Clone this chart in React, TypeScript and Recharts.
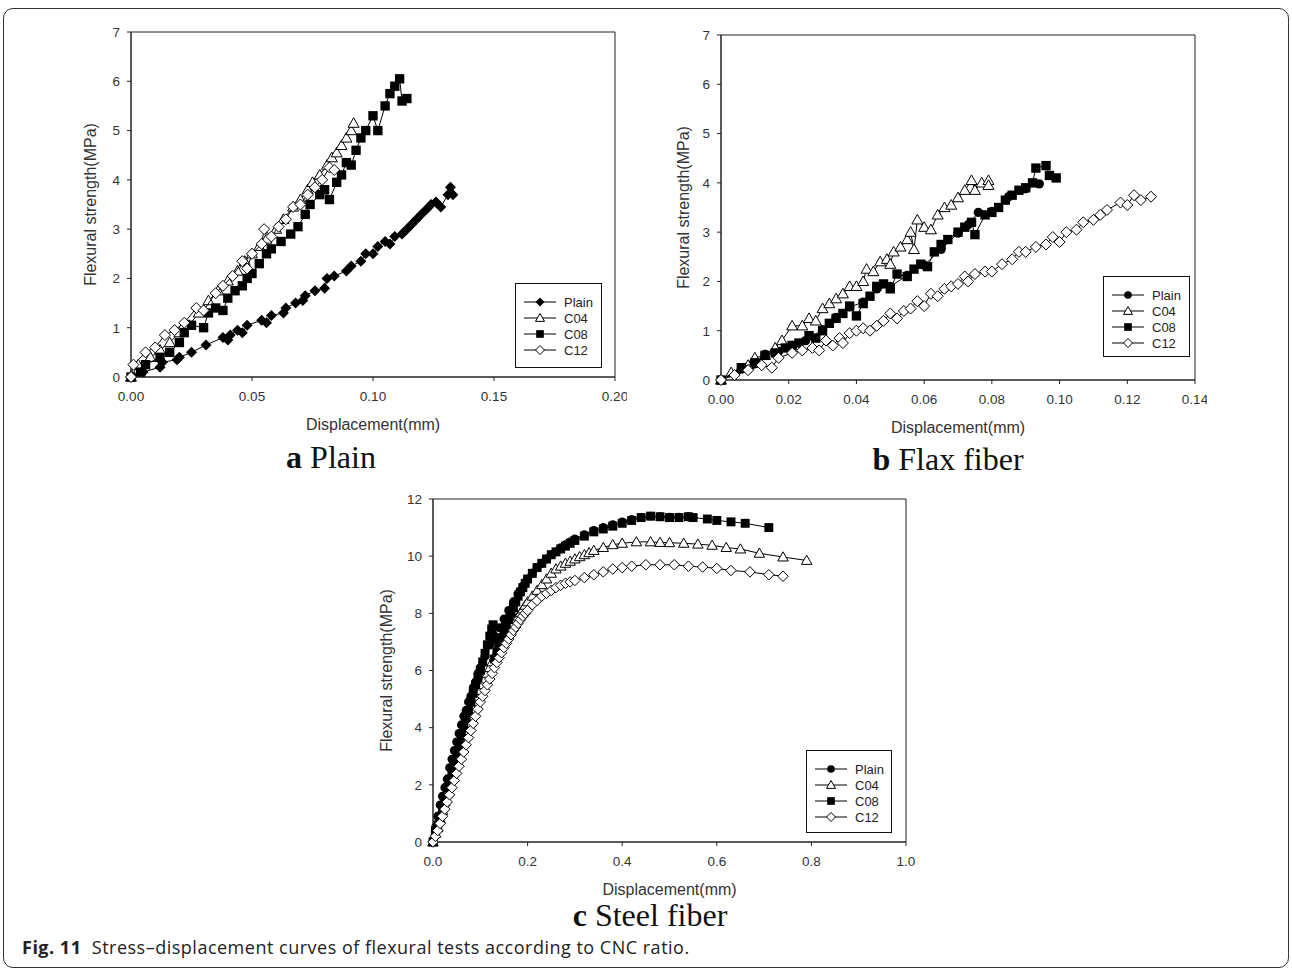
import React from 'react'
import { ScatterChart, Scatter, XAxis, YAxis, ReferenceArea, Legend } from 'recharts'

type Pair = [number, number]
type Kind = 'fdiamond' | 'circle' | 'triangle' | 'square' | 'diamond'

const FONT = '"Liberation Sans", Arial, sans-serif'

const seriesNames = ['Plain', 'C04', 'C08', 'C12']

// a Plain
const aPlain: Pair[] = [
  [0, 0], [0.005, 0.1], [0.012, 0.2], [0.013, 0.3], [0.019, 0.35], [0.02, 0.4], [0.025, 0.5],
  [0.031, 0.65], [0.038, 0.8], [0.04, 0.75], [0.041, 0.85], [0.044, 0.95], [0.046, 0.9],
  [0.048, 1.05], [0.054, 1.15], [0.056, 1.1], [0.058, 1.25], [0.063, 1.3], [0.064, 1.4],
  [0.068, 1.5], [0.071, 1.55], [0.072, 1.65], [0.076, 1.75], [0.08, 1.8], [0.081, 2.0],
  [0.084, 2.05], [0.089, 2.15], [0.091, 2.25], [0.095, 2.35], [0.097, 2.5], [0.1, 2.5],
  [0.102, 2.65], [0.105, 2.75], [0.107, 2.7], [0.109, 2.85], [0.112, 2.9], [0.114, 3.0],
  [0.116, 3.1], [0.118, 3.2], [0.12, 3.3], [0.122, 3.4], [0.124, 3.5], [0.126, 3.55],
  [0.128, 3.45], [0.131, 3.7], [0.132, 3.85], [0.133, 3.7],
]
const aC04: Pair[] = [
  [0, 0], [0.003, 0.25], [0.008, 0.4], [0.012, 0.55], [0.016, 0.7], [0.02, 0.9], [0.024, 1.05],
  [0.028, 1.3], [0.032, 1.55], [0.036, 1.75], [0.04, 1.95], [0.044, 2.15], [0.047, 2.35],
  [0.05, 2.5], [0.053, 2.65], [0.056, 2.8], [0.06, 3.0], [0.063, 3.2], [0.067, 3.45], [0.07, 3.6],
  [0.073, 3.8], [0.075, 3.95], [0.078, 4.1], [0.081, 4.3], [0.083, 4.45], [0.085, 4.55],
  [0.087, 4.7], [0.089, 4.85], [0.091, 5.0], [0.092, 5.15],
]
const aC08: Pair[] = [
  [0, 0], [0.004, 0.1], [0.006, 0.25], [0.012, 0.4], [0.016, 0.5], [0.02, 0.7], [0.022, 0.9],
  [0.025, 1.05], [0.03, 1.0], [0.032, 1.3], [0.035, 1.4], [0.038, 1.35], [0.04, 1.6], [0.043, 1.75],
  [0.046, 1.85], [0.048, 2.0], [0.05, 2.1], [0.053, 2.3], [0.056, 2.5], [0.058, 2.6], [0.062, 2.75],
  [0.066, 2.9], [0.069, 3.05], [0.072, 3.3], [0.074, 3.5], [0.078, 3.7], [0.08, 3.8], [0.082, 3.6],
  [0.085, 3.95], [0.087, 4.1], [0.089, 4.35], [0.091, 4.3], [0.093, 4.6], [0.095, 4.85],
  [0.097, 5.0], [0.1, 5.3], [0.102, 5.0], [0.105, 5.5], [0.107, 5.75], [0.109, 5.9],
  [0.111, 6.05], [0.112, 5.6], [0.114, 5.65],
]
const aC12: Pair[] = [
  [0, 0], [0.001, 0.25], [0.006, 0.5], [0.01, 0.6], [0.014, 0.85], [0.018, 0.95], [0.022, 1.1],
  [0.027, 1.4], [0.03, 1.35], [0.035, 1.7], [0.038, 1.85], [0.042, 2.05], [0.046, 2.35],
  [0.048, 2.2], [0.05, 2.5], [0.054, 2.7], [0.055, 3.0], [0.058, 2.85], [0.061, 3.05],
  [0.064, 3.2], [0.067, 3.45], [0.07, 3.5], [0.073, 3.7], [0.076, 3.85], [0.079, 4.0],
  [0.082, 4.25], [0.084, 4.2],
]

// b Flax fiber
const bPlain: Pair[] = [
  [0, 0], [0.006, 0.22], [0.01, 0.33], [0.013, 0.52], [0.017, 0.58], [0.021, 0.7], [0.025, 0.8],
  [0.03, 1.02], [0.034, 1.27], [0.038, 1.48], [0.042, 1.58], [0.046, 1.85], [0.05, 1.9], [0.055, 2.12],
  [0.06, 2.33], [0.065, 2.65], [0.07, 2.98], [0.073, 3.15], [0.076, 3.4], [0.08, 3.42], [0.085, 3.72],
  [0.09, 3.88], [0.094, 3.98],
]
const bC04: Pair[] = [
  [0, 0], [0.003, 0.15], [0.008, 0.3], [0.01, 0.45], [0.013, 0.5], [0.016, 0.65], [0.018, 0.8],
  [0.021, 1.1], [0.024, 1.1], [0.026, 1.25], [0.028, 1.2], [0.03, 1.45], [0.032, 1.55],
  [0.034, 1.65], [0.036, 1.75], [0.038, 1.9], [0.04, 1.9], [0.042, 2.0], [0.043, 2.25],
  [0.045, 2.2], [0.047, 2.4], [0.049, 2.45], [0.05, 2.35], [0.051, 2.6], [0.053, 2.7],
  [0.055, 2.85], [0.056, 3.0], [0.057, 2.65], [0.058, 3.25], [0.06, 3.1], [0.062, 3.05],
  [0.064, 3.35], [0.066, 3.5], [0.068, 3.55], [0.07, 3.7], [0.072, 3.85], [0.074, 4.05],
  [0.075, 3.85], [0.077, 4.0], [0.079, 4.05], [0.079, 3.95],
]
const bC08: Pair[] = [
  [0, 0], [0.006, 0.25], [0.01, 0.35], [0.013, 0.5], [0.016, 0.55], [0.019, 0.65], [0.021, 0.7],
  [0.023, 0.75], [0.026, 0.9], [0.028, 0.85], [0.03, 1.0], [0.032, 1.15], [0.034, 1.25],
  [0.036, 1.35], [0.038, 1.5], [0.04, 1.3], [0.042, 1.55], [0.044, 1.7], [0.046, 1.9],
  [0.048, 1.95], [0.05, 1.85], [0.052, 2.15], [0.055, 2.1], [0.057, 2.25], [0.059, 2.35],
  [0.061, 2.3], [0.063, 2.6], [0.065, 2.75], [0.067, 2.85], [0.07, 3.0], [0.072, 3.1],
  [0.074, 3.2], [0.075, 2.95], [0.078, 3.35], [0.08, 3.4], [0.082, 3.5], [0.084, 3.65],
  [0.086, 3.75], [0.088, 3.85], [0.09, 3.9], [0.092, 4.0], [0.093, 4.3], [0.096, 4.35],
  [0.097, 4.15], [0.099, 4.1],
]
const bC12: Pair[] = [
  [0, 0], [0.004, 0.1], [0.008, 0.2], [0.012, 0.3], [0.015, 0.25], [0.017, 0.45], [0.021, 0.55],
  [0.024, 0.6], [0.027, 0.65], [0.029, 0.6], [0.031, 0.8], [0.033, 0.7], [0.035, 0.85],
  [0.036, 0.75], [0.038, 0.95], [0.04, 1.0], [0.042, 1.05], [0.044, 1.0], [0.046, 1.1],
  [0.048, 1.2], [0.05, 1.35], [0.052, 1.25], [0.054, 1.4], [0.056, 1.45], [0.058, 1.6],
  [0.06, 1.5], [0.062, 1.75], [0.064, 1.7], [0.066, 1.85], [0.068, 1.9], [0.07, 1.95],
  [0.072, 2.1], [0.073, 2.0], [0.075, 2.15], [0.078, 2.2], [0.08, 2.2], [0.083, 2.35],
  [0.086, 2.45], [0.088, 2.6], [0.09, 2.6], [0.093, 2.7], [0.096, 2.75], [0.098, 2.9],
  [0.1, 2.8], [0.102, 3.0], [0.105, 3.05], [0.107, 3.2], [0.11, 3.25], [0.112, 3.35],
  [0.114, 3.45], [0.118, 3.6], [0.12, 3.55], [0.122, 3.75], [0.124, 3.65], [0.127, 3.72],
]

// c Steel fiber
const cPlain: Pair[] = [
  [0, 0], [0.005, 0.5], [0.01, 0.9], [0.015, 1.3], [0.02, 1.6], [0.025, 1.9], [0.03, 2.2],
  [0.035, 2.6], [0.04, 2.9], [0.045, 3.2], [0.05, 3.5], [0.055, 3.8], [0.06, 4.1], [0.065, 4.4],
  [0.07, 4.6], [0.075, 4.9], [0.08, 5.1], [0.085, 5.4], [0.09, 5.6], [0.095, 5.9], [0.1, 6.1],
  [0.11, 6.5], [0.12, 6.9], [0.13, 7.2], [0.14, 7.5], [0.15, 7.8], [0.16, 8.1], [0.17, 8.4],
  [0.18, 8.7], [0.19, 8.95], [0.2, 9.2], [0.21, 9.4], [0.22, 9.6], [0.23, 9.75], [0.24, 9.9],
  [0.25, 10.05], [0.26, 10.15], [0.27, 10.3], [0.28, 10.4], [0.29, 10.5], [0.3, 10.6],
  [0.32, 10.75], [0.34, 10.9], [0.36, 11.0], [0.38, 11.1], [0.4, 11.2], [0.42, 11.28],
  [0.44, 11.35], [0.46, 11.4], [0.48, 11.38], [0.5, 11.36], [0.52, 11.36], [0.54, 11.38],
]
const cC04: Pair[] = [
  [0, 0], [0.005, 0.3], [0.01, 0.5], [0.015, 0.8], [0.02, 1.1], [0.025, 1.4], [0.03, 1.7],
  [0.035, 2.0], [0.04, 2.3], [0.045, 2.6], [0.05, 2.9], [0.055, 3.15], [0.06, 3.4], [0.065, 3.65],
  [0.07, 3.9], [0.075, 4.15], [0.08, 4.4], [0.085, 4.65], [0.09, 4.9], [0.095, 5.1], [0.1, 5.3],
  [0.105, 5.5], [0.11, 5.7], [0.115, 5.9], [0.12, 6.1], [0.125, 6.3], [0.13, 6.5], [0.135, 6.65],
  [0.14, 6.8], [0.145, 6.95], [0.15, 7.1], [0.155, 7.25], [0.16, 7.4], [0.165, 7.52],
  [0.17, 7.65], [0.175, 7.78], [0.18, 7.9], [0.185, 8.02], [0.19, 8.15], [0.195, 8.28],
  [0.2, 8.4], [0.21, 8.6], [0.22, 8.8], [0.23, 9.0], [0.24, 9.2], [0.25, 9.4], [0.26, 9.55],
  [0.27, 9.65], [0.28, 9.75], [0.29, 9.82], [0.3, 9.9], [0.31, 9.98], [0.32, 10.05],
  [0.33, 10.12], [0.34, 10.2], [0.36, 10.3], [0.38, 10.4], [0.4, 10.45], [0.43, 10.5],
  [0.46, 10.5], [0.48, 10.48], [0.5, 10.47], [0.53, 10.45], [0.56, 10.42], [0.59, 10.38],
  [0.62, 10.3], [0.65, 10.25], [0.69, 10.1], [0.74, 9.97], [0.79, 9.85],
]
const cC08: Pair[] = [
  [0, 0], [0.005, 0.3], [0.01, 0.6], [0.015, 0.9], [0.02, 1.2], [0.025, 1.55], [0.03, 1.9],
  [0.035, 2.2], [0.04, 2.5], [0.045, 2.8], [0.05, 3.1], [0.055, 3.4], [0.06, 3.7], [0.065, 4.0],
  [0.07, 4.3], [0.075, 4.6], [0.08, 4.9], [0.085, 5.2], [0.09, 5.5], [0.095, 5.75], [0.1, 6.0],
  [0.105, 6.3], [0.11, 6.6], [0.115, 6.9], [0.12, 7.2], [0.124, 7.45], [0.127, 7.6],
  [0.129, 7.1], [0.13, 6.4], [0.135, 6.65], [0.14, 6.9], [0.145, 7.15], [0.15, 7.4],
  [0.155, 7.6], [0.16, 7.8], [0.165, 8.0], [0.17, 8.2], [0.175, 8.4], [0.18, 8.6], [0.185, 8.75],
  [0.19, 8.9], [0.195, 9.05], [0.2, 9.2], [0.21, 9.4], [0.22, 9.6], [0.23, 9.75], [0.24, 9.9],
  [0.25, 10.05], [0.26, 10.15], [0.27, 10.25], [0.28, 10.35], [0.29, 10.45], [0.3, 10.55],
  [0.32, 10.7], [0.34, 10.85], [0.36, 10.95], [0.38, 11.05], [0.4, 11.15], [0.42, 11.25],
  [0.44, 11.35], [0.46, 11.4], [0.48, 11.38], [0.5, 11.35], [0.52, 11.35], [0.54, 11.38],
  [0.55, 11.35], [0.58, 11.3], [0.6, 11.25], [0.63, 11.2], [0.66, 11.15], [0.71, 11.0],
]
const cC12: Pair[] = [
  [0, 0], [0.005, 0.2], [0.01, 0.4], [0.015, 0.65], [0.02, 0.9], [0.025, 1.15], [0.03, 1.4],
  [0.035, 1.65], [0.04, 1.9], [0.045, 2.15], [0.05, 2.4], [0.055, 2.65], [0.06, 2.9],
  [0.065, 3.15], [0.07, 3.4], [0.075, 3.65], [0.08, 3.9], [0.085, 4.15], [0.09, 4.4],
  [0.095, 4.65], [0.1, 4.9], [0.105, 5.1], [0.11, 5.3], [0.115, 5.5], [0.12, 5.7], [0.125, 5.9],
  [0.13, 6.1], [0.135, 6.28], [0.14, 6.45], [0.145, 6.62], [0.15, 6.8], [0.155, 6.95],
  [0.16, 7.1], [0.165, 7.25], [0.17, 7.4], [0.175, 7.52], [0.18, 7.65], [0.185, 7.78],
  [0.19, 7.9], [0.195, 8.0], [0.2, 8.1], [0.21, 8.3], [0.22, 8.45], [0.23, 8.6], [0.24, 8.7],
  [0.25, 8.8], [0.26, 8.9], [0.27, 8.98], [0.28, 9.05], [0.29, 9.1], [0.3, 9.15], [0.32, 9.25],
  [0.34, 9.35], [0.36, 9.45], [0.38, 9.55], [0.4, 9.6], [0.42, 9.65], [0.45, 9.7], [0.48, 9.7],
  [0.51, 9.7], [0.54, 9.65], [0.57, 9.62], [0.6, 9.57], [0.63, 9.5], [0.67, 9.45], [0.71, 9.35],
  [0.74, 9.3],
]

const ticksA = [0, 0.05, 0.1, 0.15, 0.2]
const ticksB = [0, 0.02, 0.04, 0.06, 0.08, 0.1, 0.12, 0.14]
const ticksC = [0, 0.2, 0.4, 0.6, 0.8, 1.0]
const ticks7 = [0, 1, 2, 3, 4, 5, 6, 7]
const ticks12 = [0, 2, 4, 6, 8, 10, 12]

const toPts = (d: Pair[]) => d.map(([x, y]) => ({ x, y }))

function Mark({ kind, cx, cy, s }: { kind: Kind; cx: number; cy: number; s: number }) {
  const r = s / 2
  switch (kind) {
    case 'fdiamond':
      return <polygon points={`${cx},${cy - r} ${cx + r},${cy} ${cx},${cy + r} ${cx - r},${cy}`} fill="#000" />
    case 'diamond':
      return <polygon points={`${cx},${cy - r} ${cx + r},${cy} ${cx},${cy + r} ${cx - r},${cy}`} fill="#fff" stroke="#000" strokeWidth={1} />
    case 'circle':
      return <circle cx={cx} cy={cy} r={r * 0.85} fill="#000" />
    case 'triangle':
      return <polygon points={`${cx},${cy - r} ${cx + r},${cy + r * 0.75} ${cx - r},${cy + r * 0.75}`} fill="#fff" stroke="#000" strokeWidth={1} />
    case 'square':
    default:
      return <rect x={cx - r * 0.85} y={cy - r * 0.85} width={r * 1.7} height={r * 1.7} fill="#000" />
  }
}

interface PanelProps {
  plot: { l: number; t: number; r: number; b: number }
  xMax: number
  xTicks: number[]
  xDec: number
  yMax: number
  yTicks: number[]
  yGap: number
  kinds: Kind[]
  data: Pair[][]
  size: number
  legend: { l: number; t: number; w: number; h: number }
}

function LegendBox({ kinds, w, h }: { kinds: Kind[]; w: number; h: number }) {
  return (
    <div style={{ width: w - 2, height: h - 12, border: '1px solid #111', background: '#fff', paddingTop: 10, boxSizing: 'content-box' }}>
      {kinds.map((k, i) => (
        <div key={i} style={{ display: 'flex', alignItems: 'center', height: 16 }}>
          <svg width={46} height={16} style={{ display: 'block' }}>
            <line x1={8} x2={40} y1={8} y2={8} stroke="#000" strokeWidth={1} />
            <Mark kind={k} cx={24} cy={8} s={9} />
          </svg>
          <span style={{ fontFamily: FONT, fontSize: 13, color: '#222', marginLeft: 2 }}>{seriesNames[i]}</span>
        </div>
      ))}
    </div>
  )
}

function Panel(p: PanelProps) {
  const YW = 60
  const XH = 62
  const mt = 10
  const mr = 12
  const left = p.plot.l - YW
  const top = p.plot.t - mt
  const width = p.plot.r - p.plot.l + YW + mr
  const height = p.plot.b - p.plot.t + mt + XH
  const tickStyle = { fill: '#333', fontSize: 13.5, fontFamily: FONT }
  return (
    <div style={{ position: 'absolute', left, top }}>
      <ScatterChart width={width} height={height} margin={{ top: mt, right: mr, bottom: 0, left: 0 }}>
        <XAxis
          type="number"
          dataKey="x"
          domain={[0, p.xMax]}
          ticks={p.xTicks}
          interval={0}
          tickFormatter={(v: number) => v.toFixed(p.xDec)}
          height={XH}
          tick={tickStyle}
          tickSize={4}
          tickMargin={10}
          stroke="#222"
          label={{ value: 'Displacement(mm)', position: 'insideBottom', offset: 9, fill: '#333', fontSize: 16, fontFamily: FONT }}
        />
        <YAxis
          type="number"
          dataKey="y"
          domain={[0, p.yMax]}
          ticks={p.yTicks}
          interval={0}
          width={YW}
          tick={tickStyle}
          tickSize={4}
          tickMargin={7}
          stroke="#222"
          label={{ value: 'Flexural strength(MPa)', angle: -90, position: 'insideLeft', offset: YW - p.yGap, fill: '#333', fontSize: 16, fontFamily: FONT, style: { textAnchor: 'middle' } }}
        />
        <ReferenceArea x1={0} x2={p.xMax} y1={0} y2={p.yMax} fill="none" stroke="#222" strokeWidth={1} ifOverflow="visible" />
        {p.data.map((d, i) => (
          <Scatter
            key={seriesNames[i]}
            name={seriesNames[i]}
            data={toPts(d)}
            line={{ stroke: '#000', strokeWidth: 1 }}
            lineType="joint"
            isAnimationActive={false}
            shape={(sp: any) => <Mark kind={p.kinds[i]} cx={sp.cx} cy={sp.cy} s={p.size} />}
          />
        ))}
        <Legend
          layout="vertical"
          align="center"
          verticalAlign="middle"
          wrapperStyle={{ left: p.legend.l - left, top: p.legend.t - top, width: p.legend.w, height: p.legend.h }}
          content={() => <LegendBox kinds={p.kinds} w={p.legend.w} h={p.legend.h} />}
        />
      </ScatterChart>
    </div>
  )
}

const capStyle: React.CSSProperties = {
  position: 'absolute',
  fontFamily: '"Liberation Serif", "Times New Roman", serif',
  fontSize: 32,
  color: '#111',
  transform: 'translate(-50%, -50%)',
  whiteSpace: 'nowrap',
}

export default function App() {
  return (
    <div style={{ position: 'absolute', left: 0, top: 0, width: 1292, height: 970, background: '#fff', overflow: 'hidden' }}>
      <div style={{ position: 'absolute', left: 3, top: 8, width: 1284, height: 958, border: '1px solid #333', borderRadius: 10 }} />
      <Panel
        plot={{ l: 131, t: 32, r: 615, b: 377 }}
        xMax={0.2}
        xTicks={ticksA}
        xDec={2}
        yMax={7}
        yTicks={ticks7}
        yGap={41}
        kinds={['fdiamond', 'triangle', 'square', 'diamond']}
        data={[aPlain, aC04, aC08, aC12]}
        size={11}
        legend={{ l: 515, t: 283, w: 87, h: 85 }}
      />
      <Panel
        plot={{ l: 721, t: 35, r: 1195, b: 380 }}
        xMax={0.14}
        xTicks={ticksB}
        xDec={2}
        yMax={7}
        yTicks={ticks7}
        yGap={38}
        kinds={['circle', 'triangle', 'square', 'diamond']}
        data={[bPlain, bC04, bC08, bC12]}
        size={11}
        legend={{ l: 1103, t: 276, w: 87, h: 81 }}
      />
      <Panel
        plot={{ l: 433, t: 499, r: 906, b: 842 }}
        xMax={1.0}
        xTicks={ticksC}
        xDec={1}
        yMax={12}
        yTicks={ticks12}
        yGap={47}
        kinds={['circle', 'triangle', 'square', 'diamond']}
        data={[cPlain, cC04, cC08, cC12]}
        size={10.5}
        legend={{ l: 806, t: 750, w: 86, h: 83 }}
      />
      <div style={{ ...capStyle, left: 331, top: 457 }}><b>a</b> Plain</div>
      <div style={{ ...capStyle, left: 948, top: 459 }}><b>b</b> Flax fiber</div>
      <div style={{ ...capStyle, left: 650, top: 915 }}><b>c</b> Steel fiber</div>
      <div style={{ position: 'absolute', left: 22, top: 935, fontFamily: '"Open Sans", sans-serif', fontSize: 18, letterSpacing: 0.5, color: '#222', whiteSpace: 'nowrap' }}>
        <b>Fig. 11</b>&nbsp; Stress–displacement curves of flexural tests according to CNC ratio.
      </div>
    </div>
  )
}
